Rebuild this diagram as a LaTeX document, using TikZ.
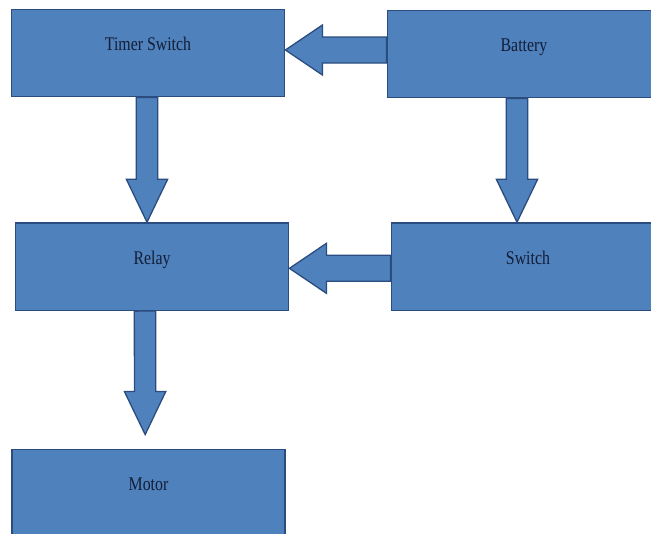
\documentclass[tikz,border=0pt]{standalone}
\usepackage{fontspec}
\newfontfamily\boxfont[FakeStretch=0.82]{Liberation Serif}
\usetikzlibrary{calc}
\definecolor{boxblue}{HTML}{4F81BD}
\definecolor{boxedge}{HTML}{2B4C7E}
\definecolor{boxtext}{HTML}{131E36}
\begin{document}
\begin{tikzpicture}[
    box/.style={draw=boxedge, fill=boxblue, line width=1.3pt,
                minimum width=8.2cm, minimum height=2.62cm,
                font=\boxfont\fontsize{16.5}{18}\selectfont, text=boxtext,
                text height=0.45cm, text depth=0.6cm},
    blk shaft/.store in=\blkshaft,
    blk head/.store in=\blkhead,
    blk len/.store in=\blklen,
    flow/.style={draw=boxedge, fill=boxblue, line width=1.1pt, line join=miter,
      to path={let \p1=($(\tikztotarget)!\blklen!(\tikztostart)$) in
        ($(\tikztostart)!\blkshaft!90:(\tikztotarget)$)
        -- ($(\p1)!\blkshaft!-90:(\tikztostart)$)
        -- ($(\p1)!\blkhead!-90:(\tikztostart)$)
        -- (\tikztotarget)
        -- ($(\p1)!\blkhead!90:(\tikztostart)$)
        -- ($(\p1)!\blkshaft!90:(\tikztostart)$)
        -- ($(\tikztostart)!\blkshaft!-90:(\tikztotarget)$) -- cycle}},
    hflow/.style={flow, blk shaft=0.39cm, blk head=0.75cm, blk len=1.11cm},
    vflow/.style={flow, blk shaft=0.32cm, blk head=0.62cm, blk len=1.29cm},
]
\useasboundingbox (0,0) rectangle (19.53,-16.02);

\node[box] (timer) at (4.44,-1.59) {Timer Switch};
\node[box] (battery) at (15.72,-1.62) {Battery};
\node[box] (relay) at (4.56,-8.0) {Relay};
\node[box] (switch) at (15.84,-8.0) {Switch};
\node[box] (motor) at (4.455,-14.8) {Motor};

\draw[hflow] ([yshift=0.12cm]battery.west) to ([yshift=0.09cm]timer.east);
\draw[hflow] ([yshift=-0.05cm]switch.west) to ([yshift=-0.05cm]relay.east);
\draw[vflow] ([xshift=-0.03cm]timer.south) to ([xshift=-0.15cm]relay.north);
\draw[vflow] ([xshift=-0.21cm]battery.south) to ([xshift=-0.33cm]switch.north);
\draw[vflow] ([xshift=-0.21cm]relay.south) to ([xshift=-0.1cm,yshift=0.43cm]motor.north);
\end{tikzpicture}
\end{document}
